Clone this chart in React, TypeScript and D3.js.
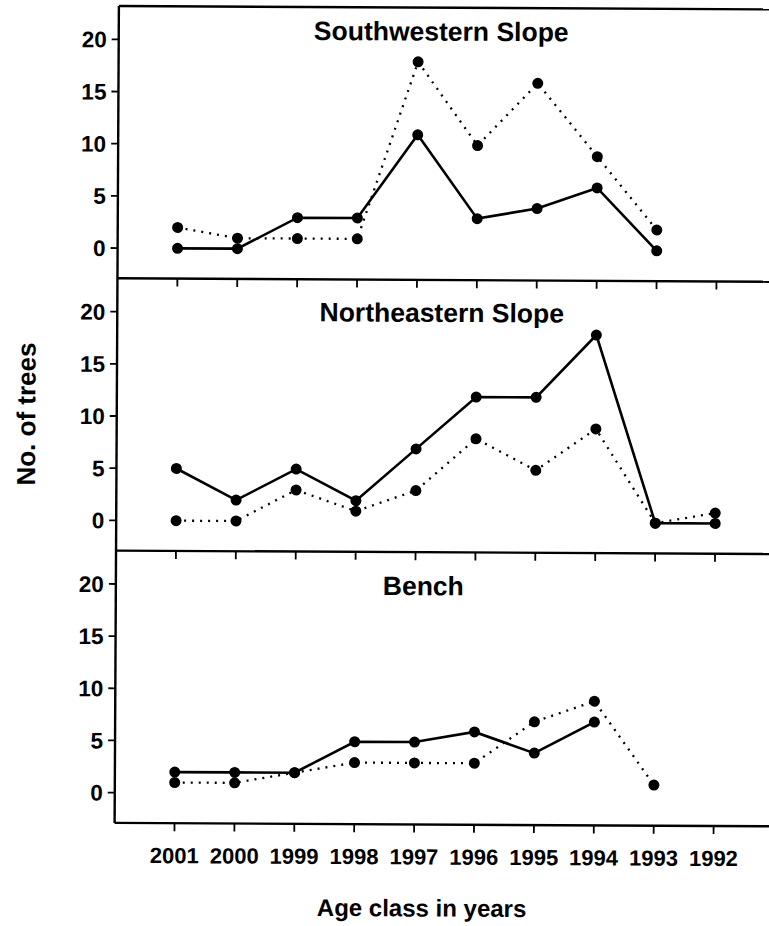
import React from "react";
import * as d3 from "d3";

// Age classes, youngest first
const years = ["2001", "2000", "1999", "1998", "1997", "1996", "1995", "1994", "1993", "1992"];
const yTicks = [0, 5, 10, 15, 20];

const panelTitles = ["Southwestern Slope", "Northeastern Slope", "Bench"];

// Tree counts per age class (solid and dotted series)
const swSolid = [0, 0, 3, 3, 11, 3, 4, 6, 0];
const swDotted = [2, 1, 1, 1, 18, 10, 16, 9, 2];
const neSolid = [5, 2, 5, 2, 7, 12, 12, 18, 0, 0];
const neDotted = [0, 0, 3, 1, 3, 8, 5, 9, 0, 1];
const benchSolid = [2, 2, 2, 5, 5, 6, 4, 7];
const benchDotted = [1, 1, 2, 3, 3, 3, 7, 9, 1];

const W = 769;
const H = 926;
const left = 116.5;
const top0 = 7.4;
const panelH = 272.3;
const font = "'Liberation Sans', Arial, Helvetica, sans-serif";

const panels = [
  { title: panelTitles[0], solid: swSolid, dotted: swDotted, tx: 439, ty: 33 },
  { title: panelTitles[1], solid: neSolid, dotted: neDotted, tx: 441, ty: 42 },
  { title: panelTitles[2], solid: benchSolid, dotted: benchDotted, tx: 424, ty: 43 },
];

const x = d3.scaleLinear().domain([-1, 10]).range([left, left + 59.9 * 11]);

function Panel({ idx }: { idx: number }) {
  const p = panels[idx];
  const pTop = top0 + idx * panelH;
  const pBottom = pTop + panelH;
  const y = d3.scaleLinear().domain([-2.9, 23.2]).range([pBottom, pTop]);
  const line = d3
    .line<number>()
    .x((_, i) => x(i))
    .y((d) => y(d));
  return (
    <g>
      {/* bottom axis line with outward ticks */}
      <line x1={left} x2={x(10)} y1={pBottom} y2={pBottom} stroke="#000" strokeWidth={2.4} />
      {years.map((yr, i) => (
        <line key={yr} x1={x(i)} x2={x(i)} y1={pBottom} y2={pBottom + 8} stroke="#000" strokeWidth={1.8} />
      ))}
      {/* left axis ticks and labels */}
      {yTicks.map((t) => (
        <g key={t}>
          <line x1={left - 7} x2={left} y1={y(t)} y2={y(t)} stroke="#000" strokeWidth={1.8} />
          <text
            x={left - 12}
            y={y(t)}
            dy="0.36em"
            textAnchor="end"
            fontFamily={font}
            fontWeight="bold"
            fontSize={22.5}
          >
            {t}
          </text>
        </g>
      ))}
      <text
        x={p.tx}
        y={pTop + p.ty}
        textAnchor="middle"
        fontFamily={font}
        fontWeight="bold"
        fontSize={26.5}
      >
        {p.title}
      </text>
      <path d={line(p.dotted) || ""} fill="none" stroke="#000" strokeWidth={2.3} strokeDasharray="2 6" />
      <path d={line(p.solid) || ""} fill="none" stroke="#000" strokeWidth={2.6} />
      {p.dotted.map((d, i) => (
        <circle key={"d" + i} cx={x(i)} cy={y(d)} r={5.5} fill="#000" />
      ))}
      {p.solid.map((d, i) => (
        <circle key={"s" + i} cx={x(i)} cy={y(d)} r={5.5} fill="#000" />
      ))}
    </g>
  );
}

export default function App() {
  const bottom = top0 + 3 * panelH;
  return (
    <svg
      width={W}
      height={H}
      viewBox={`0 0 ${W} ${H}`}
      style={{ position: "absolute", left: 0, top: 0, background: "#fff" }}
    >
      <rect width={W} height={H} fill="#fff" />
      <g transform={`rotate(0.3 ${W / 2} ${H / 2})`}>
        {/* frame: top edge and left axis */}
        <line x1={left} x2={x(10)} y1={top0} y2={top0} stroke="#000" strokeWidth={2.4} />
        <line x1={left} x2={left} y1={top0} y2={bottom} stroke="#000" strokeWidth={2.4} />
        {panels.map((_, i) => (
          <Panel key={i} idx={i} />
        ))}
        {years.map((yr, i) => (
          <text
            key={yr}
            x={x(i)}
            y={bottom + 40}
            textAnchor="middle"
            fontFamily={font}
            fontWeight="bold"
            fontSize={22}
          >
            {yr}
          </text>
        ))}
        <text
          x={(left + x(10)) / 2 - 22}
          y={bottom + 92}
          textAnchor="middle"
          fontFamily={font}
          fontWeight="bold"
          fontSize={24}
        >
          Age class in years
        </text>
        <text
          transform={`translate(35, ${top0 + 1.5 * panelH}) rotate(-90)`}
          textAnchor="middle"
          fontFamily={font}
          fontWeight="bold"
          fontSize={26}
        >
          No. of trees
        </text>
      </g>
    </svg>
  );
}
